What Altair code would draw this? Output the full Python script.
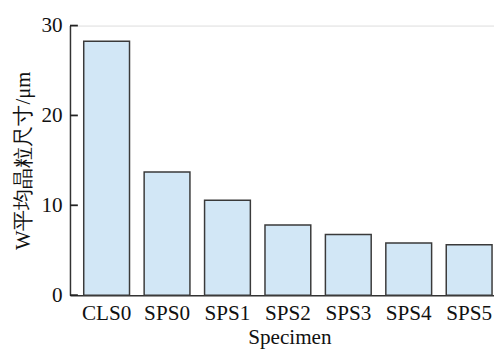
import altair as alt
import pandas as pd

specimens = ["CLS0", "SPS0", "SPS1", "SPS2", "SPS3", "SPS4", "SPS5"]
grain_size = [28.25, 13.7, 10.55, 7.8, 6.75, 5.8, 5.6]
y_ticks = [0, 10, 20, 30]

df = pd.DataFrame({"Specimen": specimens, "size": grain_size})
ticks_df = pd.DataFrame({"t": y_ticks})

FONT = "Liberation Serif"
FS = 21.5

x_enc = alt.X(
    "Specimen:N",
    sort=specimens,
    scale=alt.Scale(paddingInner=0.242, paddingOuter=0.13, align=0.875),
    axis=alt.Axis(
        title="Specimen",
        labelAngle=0,
        ticks=False,
        labelPadding=8,
        labelFontSize=FS,
        labelFont=FONT,
        labelColor="#111",
        titleFont=FONT,
        titleFontSize=FS,
        titleFontWeight="normal",
        titleColor="#111",
        titleX=223,
        titlePadding=3,
        domainColor="#333",
        domainWidth=1.5,
    ),
)

y_scale = alt.Scale(domain=[0, 30], nice=False)
y_axis = alt.Axis(
    title="W平均晶粒尺寸/μm",
    values=y_ticks,
    ticks=False,
    grid=False,
    labelPadding=8,
    labelFontSize=FS,
    labelFont=FONT,
    labelColor="#111",
    titleFont=FONT,
    titleFontSize=21,
    titleFontWeight="normal",
    titleColor="#111",
    titlePadding=8,
    domainColor="#333",
    domainWidth=1.5,
)

bars = alt.Chart(df).mark_bar(
    fill="#d2e7f6", stroke="#3a3a3a", strokeWidth=1.5
).encode(
    x=x_enc,
    y=alt.Y("size:Q", scale=y_scale, axis=y_axis),
)

tick_marks = alt.Chart(ticks_df).mark_rule(color="#222", strokeWidth=1.8).encode(
    y=alt.Y("t:Q", scale=y_scale, axis=y_axis),
    x=alt.value(0),
    x2=alt.value(8),
)

chart = (
    alt.layer(bars, tick_marks)
    .properties(
        width=431,
        height=274,
        padding={"left": 63, "top": 15, "right": 0, "bottom": 60},
        autosize=alt.AutoSizeParams(type="none"),
    )
    .configure_view(strokeWidth=0, stroke="transparent")
    .configure(background="white")
)

chart.save("out.html", embed_options={"renderer": "svg", "actions": False})
